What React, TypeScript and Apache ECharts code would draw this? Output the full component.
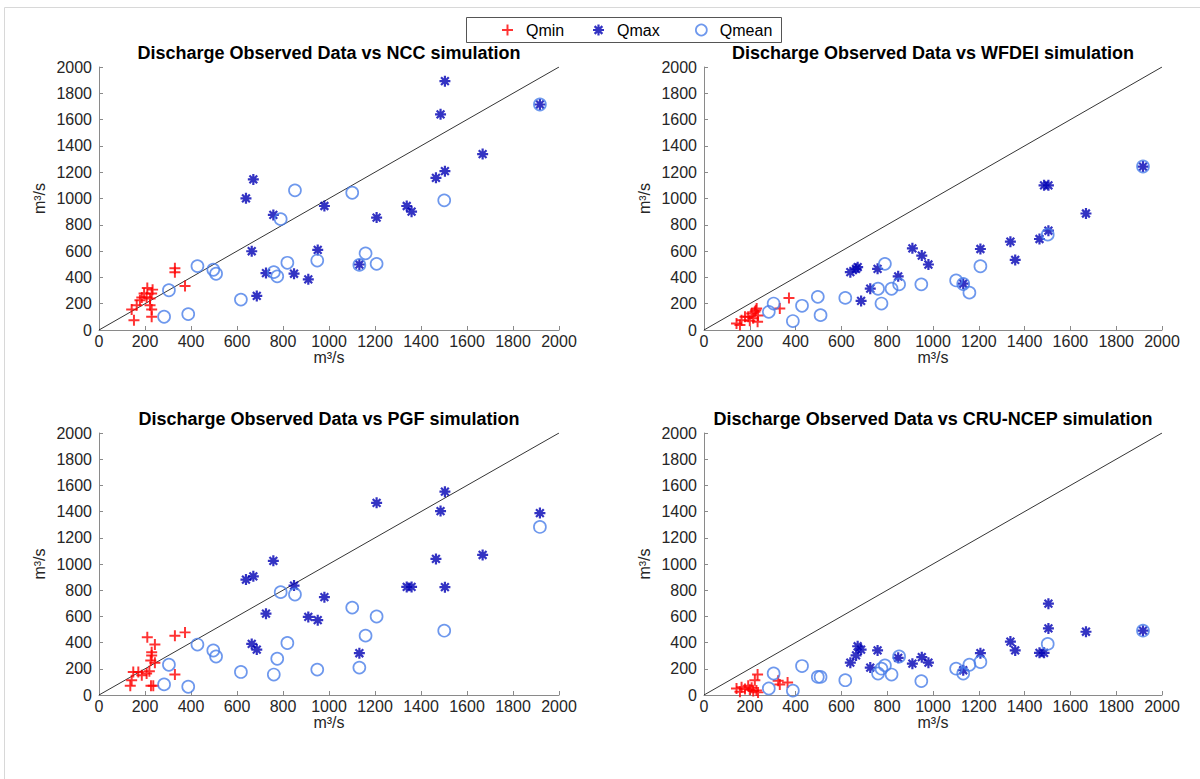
import React, { useEffect, useRef } from "react";
import * as echarts from "echarts";

// ---- Data (observed x, simulated y), m3/s ----
const panelTitles = [
  "Discharge Observed Data vs NCC simulation",
  "Discharge Observed Data vs WFDEI simulation",
  "Discharge Observed Data vs PGF simulation",
  "Discharge Observed Data vs CRU-NCEP simulation",
];
const legendNames = ["Qmin", "Qmax", "Qmean"];
const axisTicks = [0, 200, 400, 600, 800, 1000, 1200, 1400, 1600, 1800, 2000];

const qmaxObs = [639, 664, 671, 686, 726, 758, 848, 910, 951, 980, 1132, 1207, 1338, 1359, 1465, 1485, 1504, 1504, 1668, 1917];
const qmaxNCC = [1001, 599, 1145, 259, 433, 875, 428, 385, 609, 943, 498, 855, 943, 900, 1157, 1640, 1892, 1208, 1338, 1715];
const qmaxWFDEI = [440, 465, 478, 221, 314, 465, 408, 621, 566, 498, 352, 616, 672, 533, 692, 1100, 1100, 755, 886, 1243];
const qmaxPGF = [881, 390, 906, 347, 621, 1024, 835, 596, 571, 747, 319, 1467, 825, 825, 1039, 1404, 1552, 823, 1069, 1389];
const qmaxCRU = [247, 302, 372, 347, 209, 340, 284, 239, 289, 247, 189, 319, 408, 340, 322, 322, 697, 508, 483, 491];

const qmeanObs = [283, 304, 388, 428, 497, 509, 617, 760, 775, 790, 819, 852, 949, 1101, 1132, 1159, 1207, 1501, 1917];
const qmeanNCC = [101, 302, 121, 486, 458, 428, 231, 440, 408, 843, 511, 1062, 528, 1044, 495, 583, 503, 986, 1715];
const qmeanWFDEI = [138, 201, 68, 184, 252, 113, 244, 314, 201, 503, 314, 347, 347, 377, 350, 284, 485, 725, 1243];
const qmeanPGF = [81, 231, 63, 385, 340, 294, 176, 156, 277, 785, 397, 767, 194, 667, 209, 453, 599, 491, 1283];
const qmeanCRU = [50, 164, 33, 221, 138, 138, 113, 164, 201, 226, 156, 294, 106, 201, 164, 231, 252, 390, 491];

const qminNCC = [[142, 156], [152, 75], [164, 189], [178, 226], [186, 247], [196, 277], [210, 320], [222, 239], [222, 189], [229, 277], [229, 156], [229, 101], [233, 307], [207, 250], [330, 470], [330, 440], [374, 335]];
const qminWFDEI = [[142, 50], [157, 38], [164, 75], [179, 101], [193, 101], [208, 126], [222, 138], [230, 164], [234, 63], [215, 90], [200, 70], [331, 164], [371, 244], [226, 150], [236, 110]];
const qminPGF = [[136, 70], [142, 113], [149, 176], [171, 176], [186, 151], [207, 164], [219, 181], [210, 440], [243, 385], [229, 327], [229, 302], [225, 264], [243, 247], [226, 70], [236, 70], [330, 156], [330, 453], [374, 478]];
const qminCRU = [[142, 50], [157, 25], [164, 60], [179, 45], [193, 70], [208, 55], [222, 113], [234, 156], [215, 30], [229, 35], [236, 20], [324, 108], [331, 80], [365, 96], [200, 40]];

const qmaxSim = [qmaxNCC, qmaxWFDEI, qmaxPGF, qmaxCRU];
const qmeanSim = [qmeanNCC, qmeanWFDEI, qmeanPGF, qmeanCRU];
const qminSim = [qminNCC, qminWFDEI, qminPGF, qminCRU];
const oneToOne = [[0, 0], [2000, 2000]];

// ---- Symbols ----
const plusPath = "path://M4.1,0H5.9V4.1H10V5.9H5.9V10H4.1V5.9H0V4.1H4.1Z";
function asteriskPath() {
  const r = 5, w = 1.0;
  let d = "";
  for (let k = 0; k < 4; k++) {
    const a = (k * Math.PI) / 4;
    const c = Math.cos(a), s = Math.sin(a);
    const px = -s * w, py = c * w;
    const pts = [
      [r * c + px, r * s + py],
      [-r * c + px, -r * s + py],
      [-r * c - px, -r * s - py],
      [r * c - px, r * s - py],
    ];
    d += "M" + pts.map((p) => (p[0] + 5).toFixed(2) + "," + (p[1] + 5).toFixed(2)).join("L") + "Z";
  }
  return "path://" + d;
}
const starPath = asteriskPath();

const RED = "#ff0000";
const DARKBLUE = "#0000b4";
const LIGHTBLUE = "#4a7ee8";
const FONT = "Liberation Sans, Arial, sans-serif";

const grids = [
  { left: 99, top: 67, width: 460, height: 263 },
  { left: 704, top: 67, width: 458, height: 263 },
  { left: 99, top: 433, width: 460, height: 262 },
  { left: 704, top: 433, width: 458, height: 262 },
];

export default function App() {
  const ref = useRef<HTMLDivElement>(null);
  useEffect(() => {
    if (!ref.current) return;
    const chart = echarts.init(ref.current, null, { renderer: "svg" });
    const xAxis: any[] = [];
    const yAxis: any[] = [];
    const series: any[] = [];
    const title: any[] = [];
    grids.forEach((g, i) => {
      const axisCommon = {
        gridIndex: i,
        type: "value",
        min: axisTicks[0],
        max: axisTicks[axisTicks.length - 1],
        interval: axisTicks[1] - axisTicks[0],
        name: "m³/s",
        nameLocation: "middle",
        nameMoveOverlap: false,
        nameTextStyle: { fontFamily: FONT, fontSize: 16, color: "#262626" },
        axisLine: { show: true, lineStyle: { color: "#8a8a8a", width: 1 } },
        axisTick: { show: true, inside: true, length: 4, lineStyle: { color: "#8a8a8a" } },
        axisLabel: { fontFamily: FONT, fontSize: 16, color: "#262626", formatter: (v: number) => String(v) },
        splitLine: { show: false },
      };
      xAxis.push({ ...axisCommon, nameGap: 19, axisLabel: { ...axisCommon.axisLabel, margin: 3 } });
      yAxis.push({ ...axisCommon, nameGap: 52, axisLabel: { ...axisCommon.axisLabel, margin: 7 } });
      title.push({
        text: panelTitles[i],
        left: g.left + g.width / 2 - 5,
        top: g.top - 28,
        textAlign: "center",
        textStyle: { fontFamily: FONT, fontSize: 18, fontWeight: "bold", color: "#000" },
      });
      series.push({
        type: "line",
        xAxisIndex: i,
        yAxisIndex: i,
        data: oneToOne,
        symbol: "none",
        lineStyle: { color: "#000", width: 0.8 },
        silent: true,
        z: 1,
      });
      series.push({
        name: legendNames[0],
        type: "scatter",
        xAxisIndex: i,
        yAxisIndex: i,
        data: qminSim[i],
        symbol: plusPath,
        symbolSize: 11,
        itemStyle: { color: RED },
        z: 3,
      });
      series.push({
        name: legendNames[1],
        type: "scatter",
        xAxisIndex: i,
        yAxisIndex: i,
        data: qmaxObs.map((x, k) => [x, qmaxSim[i][k]]),
        symbol: starPath,
        symbolSize: 11,
        itemStyle: { color: DARKBLUE },
        z: 3,
      });
      series.push({
        name: legendNames[2],
        type: "scatter",
        xAxisIndex: i,
        yAxisIndex: i,
        data: qmeanObs.map((x, k) => [x, qmeanSim[i][k]]),
        symbol: "circle",
        symbolSize: 12,
        itemStyle: { color: "rgba(0,0,0,0)", borderColor: LIGHTBLUE, borderWidth: 1.7 },
        z: 4,
      });
    });

    const legendIcons = [
      { icon: plusPath, itemStyle: { color: RED } },
      { icon: starPath, itemStyle: { color: DARKBLUE } },
      { icon: "circle", itemStyle: { color: "rgba(0,0,0,0)", borderColor: LIGHTBLUE, borderWidth: 1.7 } },
    ];
    const legendLefts = [497, 588, 690];
    const legend = legendNames.map((n, k) => ({
      data: [{ name: n, ...legendIcons[k] }],
      left: legendLefts[k],
      top: 17,
      itemWidth: 11,
      itemHeight: 11,
      textStyle: { fontFamily: FONT, fontSize: 16, color: "#000", padding: [0, 0, 0, 8] },
    }));

    chart.setOption({
      animation: false,
      backgroundColor: "#ffffff",
      title,
      grid: grids.map((g) => ({ ...g, containLabel: false })),
      xAxis,
      yAxis,
      series,
      legend,
      graphic: [
        { type: "line", shape: { x1: 4.5, y1: 7.5, x2: 1200, y2: 7.5 }, style: { stroke: "#d8d8d8", lineWidth: 1 } },
        { type: "line", shape: { x1: 4.5, y1: 7.5, x2: 4.5, y2: 779 }, style: { stroke: "#d8d8d8", lineWidth: 1 } },
        { type: "rect", shape: { x: 466.5, y: 17.5, width: 315, height: 25 }, style: { fill: "none", stroke: "#555", lineWidth: 1 }, z: 10 },
      ],
    });
    return () => chart.dispose();
  }, []);
  return <div ref={ref} style={{ position: "fixed", left: 0, top: 0, width: 1200, height: 779 }} />;
}
